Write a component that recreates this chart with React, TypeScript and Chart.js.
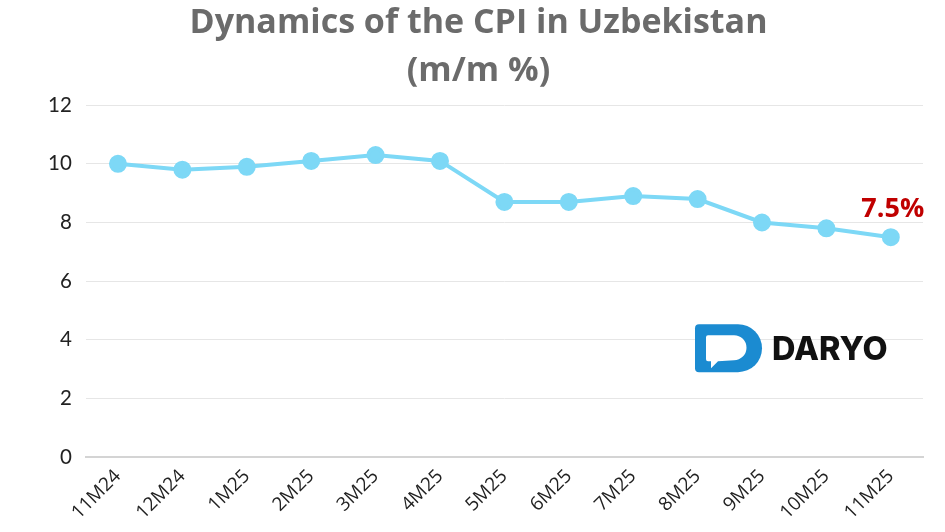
import React, { useEffect, useRef } from "react";
import { Chart, registerables } from "chart.js";

Chart.register(...registerables);

const categories = ["11M24", "12M24", "1M25", "2M25", "3M25", "4M25", "5M25", "6M25", "7M25", "8M25", "9M25", "10M25", "11M25"];
const cpiValues = [10.0, 9.8, 9.9, 10.1, 10.3, 10.1, 8.7, 8.7, 8.9, 8.8, 8.0, 7.8, 7.5];
const titleLines = ["Dynamics of the CPI in Uzbekistan", "(m/m %)"];
const lastLabel = "7.5%";
const logoText = "DARYO";

const decorPlugin = {
  id: "decor",
  afterDatasetsDraw(chart: any) {
    const ctx = chart.ctx as CanvasRenderingContext2D;
    const meta = chart.getDatasetMeta(0);
    const last = meta.data[meta.data.length - 1];
    ctx.save();
    // last value label
    ctx.fillStyle = "#c00000";
    ctx.font = "bold 27px 'Open Sans', sans-serif";
    ctx.textAlign = "center";
    ctx.textBaseline = "alphabetic";
    ctx.fillText(lastLabel, last.x + 2, last.y - 20);

    // logo
    const area = chart.chartArea;
    const lx = area.right - 228;
    const ly = area.top + 219;
    ctx.fillStyle = "#1b8bd1";
    ctx.beginPath();
    const w = 67, h = 48, r = 24;
    ctx.moveTo(lx + 4, ly);
    ctx.lineTo(lx + w - r, ly);
    ctx.arc(lx + w - r, ly + r, r, -Math.PI / 2, Math.PI / 2);
    ctx.lineTo(lx + 4, ly + h);
    ctx.quadraticCurveTo(lx, ly + h, lx, ly + h - 4);
    ctx.lineTo(lx, ly + 4);
    ctx.quadraticCurveTo(lx, ly, lx + 4, ly);
    ctx.closePath();
    ctx.fill();
    // bubble
    ctx.fillStyle = "#ffffff";
    ctx.beginPath();
    const bx = lx + 11, by = ly + 11, bw = 40, bh = 25, br = 12;
    ctx.moveTo(bx + 2, by);
    ctx.lineTo(bx + bw - br, by);
    ctx.arc(bx + bw - br, by + br + 0.5, br + 0.5, -Math.PI / 2, Math.PI / 2);
    ctx.lineTo(bx + 12, by + bh + 1);
    ctx.lineTo(bx + 5, by + bh + 8);
    ctx.lineTo(bx + 5, by + bh + 1);
    ctx.lineTo(bx + 2, by + bh + 1);
    ctx.quadraticCurveTo(bx, by + bh + 1, bx, by + bh - 1);
    ctx.lineTo(bx, by + 2);
    ctx.quadraticCurveTo(bx, by, bx + 2, by);
    ctx.closePath();
    ctx.fill();
    // text
    ctx.fillStyle = "#111111";
    ctx.font = "800 32.5px Inter, 'Open Sans', sans-serif";
    ctx.textAlign = "left";
    ctx.textBaseline = "middle";
    ctx.fillText(logoText, lx + 77, ly + 26);
    ctx.restore();
  },
};

export default function App() {
  const ref = useRef<HTMLCanvasElement | null>(null);
  useEffect(() => {
    document.body.style.margin = "0";
    if (!ref.current) return;
    const chart = new Chart(ref.current, {
      type: "line",
      data: {
        labels: categories,
        datasets: [
          {
            data: cpiValues,
            borderColor: "#7dd8f6",
            backgroundColor: "#7dd8f6",
            pointBackgroundColor: "#7dd8f6",
            pointBorderColor: "#7dd8f6",
            borderWidth: 4,
            pointRadius: 7,
            tension: 0,
          },
        ],
      },
      options: {
        animation: false,
        responsive: false,
        maintainAspectRatio: false,
        layout: { padding: { left: 34, right: 22, top: 0, bottom: 0 } },
        plugins: {
          legend: { display: false },
          tooltip: { enabled: false },
          title: {
            display: true,
            text: titleLines,
            color: "#6b6b6b",
            font: { family: "'Open Sans', sans-serif", size: 34, weight: "bold", lineHeight: 1.4 },
            padding: { top: 0, bottom: 10 },
          },
        },
        scales: {
          x: {
            offset: true,
            grid: { display: false, drawTicks: false },
            border: { display: true, color: "#d4d4d4", width: 2 },
            ticks: {
              color: "#222222",
              font: { family: "'Open Sans', sans-serif", size: 19 },
              maxRotation: 45,
              minRotation: 45,
              padding: 8,
              autoSkip: false,
            },
          },
          y: {
            min: 0,
            max: 12,
            grid: { color: "#e6e6e6", drawTicks: false, lineWidth: 1 },
            border: { display: false },
            ticks: {
              stepSize: 2,
              color: "#222222",
              font: { family: "Lato, sans-serif", size: 20.5 },
              padding: 14,
            },
          },
        },
      },
      plugins: [decorPlugin],
    });
    return () => chart.destroy();
  }, []);
  return (
    <div style={{ width: 945, height: 532, background: "#ffffff" }}>
      <canvas ref={ref} width={945} height={532} style={{ width: 945, height: 532, display: "block" }} />
    </div>
  );
}
